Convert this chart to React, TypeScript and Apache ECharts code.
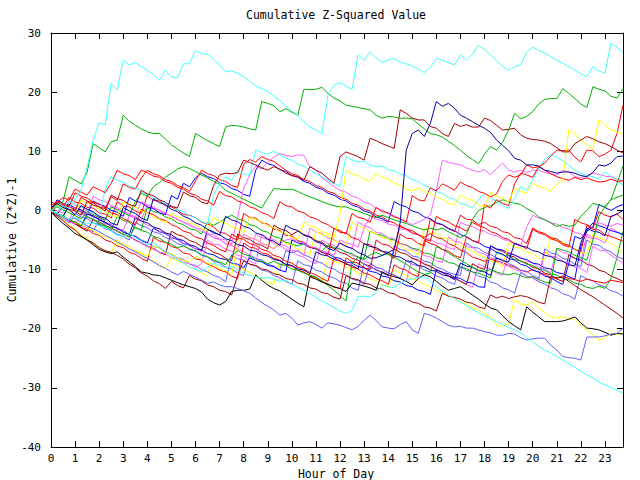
import React, { useEffect, useRef } from "react";
import * as echarts from "echarts";

const hours: number[] = Array.from({ length: 96 }, (_, i) => i / 4);
const hourTicks = ["0","1","2","3","4","5","6","7","8","9","10","11","12","13","14","15","16","17","18","19","20","21","22","23"];
const titleText = "Cumulative Z-Squared Value";
const xName = "Hour of Day";
const yName = "Cumulative (Z*Z)-1";

const cyanTop = [0,-0.4,0.8,0.4,2.0,3.4,7.3,11.9,14.8,14.5,21.5,20.4,25.4,24.6,25.0,24.3,23.7,23.0,22.0,23.7,22.6,22.4,24.8,24.8,27.1,26.5,26.4,25.6,24.6,23.4,23.6,23.2,22.6,21.9,21.0,20.6,20.1,19.3,18.6,17.6,16.9,16.0,15.0,14.1,13.6,13.0,19.5,21.2,21.6,21.0,20.5,26.3,25.4,26.8,25.8,25.0,25.4,25.7,25.1,24.8,24.4,23.9,23.3,24.2,25.7,25.4,25.0,24.6,26.3,25.4,26.4,27.9,27.2,26.3,25.3,24.4,23.7,24.3,24.6,26.8,27.6,27.1,26.6,26.0,25.4,24.9,24.3,23.7,23.1,22.6,24.3,23.6,23.2,28.3,27.6,26.6];
const greenTop = [0,1.0,1.5,5.7,5.1,4.5,6.5,11.3,10.6,9.9,11.6,11.9,16.1,15.1,14.4,13.8,13.3,13.0,13.0,12.1,11.1,10.4,9.7,9.1,13.0,12.4,11.8,11.3,10.8,14.1,14.4,14.3,14.1,13.8,13.6,18.4,18.1,17.7,16.7,17.2,16.6,16.1,20.5,20.4,20.5,20.8,19.8,19.0,18.5,17.8,17.6,17.4,17.2,17.0,16.1,15.6,15.9,15.8,15.6,15.6,15.5,14.6,13.8,13.0,12.8,12.4,11.7,11.0,10.2,9.3,8.6,7.9,9.5,10.8,10.2,11.5,13.6,16.4,15.5,15.9,16.7,18.0,18.8,18.9,18.9,20.6,19.8,18.9,18.0,17.4,20.9,20.5,20.2,19.3,19.0,20.6];
const cyanLow = [0,-0.6,-1.0,-1.5,-1.2,-1.8,-2.3,-2.1,-2.6,-2.9,-3.5,-4.2,-4.4,-3.9,-4.6,-5.2,-5.8,-5.4,-6.2,-6.9,-7.6,-8.4,-8.9,-9.5,-9.9,-10.4,-9.6,-8.9,-9.3,-9.7,-9.4,-10.1,-10.6,-11.0,-11.2,-11.5,-11.3,-11.6,-12.0,-11.8,-12.5,-13.0,-13.5,-14.1,-14.7,-15.3,-15.8,-16.4,-17.0,-17.4,-16.9,-14.6,-14.5,-14.6,-13.9,-12.6,-12.9,-13.1,-12.3,-11.8,-11.6,-11.3,-11.2,-12.0,-12.9,-13.6,-14.3,-14.9,-15.5,-16.1,-16.7,-17.3,-17.8,-18.3,-18.8,-19.3,-19.8,-20.2,-20.7,-21.5,-22.2,-23.0,-23.6,-24.1,-24.7,-25.3,-25.9,-26.5,-27.2,-27.8,-28.3,-29.0,-29.5,-29.9,-30.4,-30.9];
const lightBlueLow = [0,-0.5,-1.1,-1.6,-1.3,-2.0,-2.6,-3.1,-3.6,-4.2,-4.7,-5.3,-5.9,-6.5,-7.0,-7.6,-8.1,-8.7,-9.3,-9.8,-10.4,-10.9,-10.3,-10.8,-11.3,-11.8,-12.3,-12.1,-12.6,-12.9,-12.9,-13.2,-13.6,-14.0,-14.8,-15.6,-16.2,-16.8,-17.7,-17.4,-18.2,-19.4,-19.0,-18.8,-19.3,-19.9,-19.0,-19.2,-19.4,-19.8,-20.2,-19.6,-18.6,-17.7,-18.6,-19.7,-19.9,-20.0,-19.3,-18.8,-20.2,-20.8,-17.4,-17.7,-18.2,-18.8,-19.4,-19.7,-19.6,-19.9,-19.9,-20.2,-20.5,-20.7,-21.1,-21.1,-20.8,-20.9,-21.5,-21.9,-21.7,-21.6,-21.6,-22.8,-23.6,-24.7,-24.9,-25.0,-25.3,-21.4,-21.4,-21.4,-21.2,-20.9,-20.8,-19.9];
const blackLow = [-0.3,-1.3,-2.2,-3.0,-3.9,-4.4,-5.0,-5.8,-6.6,-7.0,-7.3,-7.0,-7.9,-8.7,-9.5,-10.4,-10.6,-10.9,-11.0,-11.4,-11.8,-12.2,-12.6,-12.9,-13.2,-13.8,-15.0,-15.6,-16.0,-15.4,-13.7,-13.5,-13.5,-13.3,-10.9,-11.8,-12.6,-13.2,-13.6,-14.3,-15.0,-15.7,-16.3,-11.2,-11.6,-12.1,-12.5,-12.9,-13.2,-13.7,-12.3,-12.5,-12.8,-13.1,-13.5,-10.4,-10.9,-11.2,-11.5,-12.0,-12.6,-11.5,-10.9,-11.2,-12.0,-12.8,-13.5,-13.2,-12.9,-13.6,-14.3,-15.0,-15.8,-16.5,-16.8,-17.8,-18.8,-19.5,-20.2,-16.3,-17.2,-18.0,-18.8,-18.8,-18.8,-18.7,-18.4,-18.0,-19.0,-19.9,-20.0,-20.2,-20.6,-21.1,-20.8,-20.9];
const navySpike = [0.5,1.2,0.5,0.1,-0.7,0.8,0.2,-0.2,-1.0,-1.3,-2.1,-2.5,0.5,-0.1,-0.5,-1.3,-1.7,2.0,1.3,1.0,0.2,-0.2,-1.0,-1.4,-2.1,-2.5,-3.2,-3.6,-4.2,-1.0,-1.6,-1.9,-2.7,-3.0,-3.8,-4.1,-4.9,-5.2,-5.9,-2.5,-3.1,-3.4,-4.2,-4.5,-5.3,-5.6,-6.4,-6.8,-5.5,-6.1,-6.4,-7.1,-7.5,-8.1,-8.0,-7.6,-7.1,-6.6,-2.0,10.2,13.0,13.6,12.5,14.7,18.4,17.6,18.1,17.3,16.1,15.6,15.0,14.4,13.9,13.2,11.9,11.0,10.1,8.8,8.5,7.7,7.7,7.5,6.8,6.6,6.3,6.5,6.5,6.3,5.9,5.7,6.4,7.7,7.5,8.0,9.1,9.2];
const maroonHigh = [0,-0.7,0.8,0.2,-0.1,-0.8,1.5,0.9,0.6,-0.1,2.6,2.0,1.7,1.0,0.7,3.4,2.8,2.5,1.8,1.4,0.7,0.4,3.1,2.5,2.2,1.4,1.1,4.2,6.0,6.3,6.2,6.4,8.5,8.1,7.7,7.2,6.8,7.4,7.0,6.3,5.9,5.7,5.1,7.4,6.8,6.3,5.4,4.6,9.1,9.9,9.5,9.1,8.5,12.2,11.8,11.3,10.9,10.5,17.0,16.4,15.6,15.3,15.3,14.2,13.9,13.0,12.5,14.7,14.2,14.5,14.1,14.1,15.6,15.2,14.4,13.6,13.7,13.9,12.8,12.2,12.0,11.9,11.7,11.3,10.6,9.9,9.9,11.3,11.9,12.5,12.1,11.6,11.3,10.8,10.2,9.7];
const yellowHigh = [0,1.0,0.4,0.1,-0.6,1.8,1.2,0.9,0.2,-0.1,-0.8,-1.1,1.5,0.9,0.6,-0.1,-0.4,-1.1,-1.5,-2.2,-0.5,-1.1,-1.4,-2.1,-2.4,-3.1,-3.5,-1.2,-1.8,-2.1,-2.8,-3.1,-3.8,-1.0,-1.6,-1.9,-2.6,-2.9,-3.6,-3.9,-4.6,-4.9,-2.0,-2.6,-2.9,-3.6,-3.9,-4.6,-0.5,6.8,6.2,5.9,5.3,5.0,6.2,5.6,5.3,4.6,4.3,3.6,3.3,3.8,3.2,2.9,2.2,1.9,1.2,0.9,2.6,2.0,1.7,1.0,0.6,3.0,2.4,2.1,1.4,3.8,3.2,2.9,4.6,4.1,3.8,3.2,4.4,5.1,13.6,12.9,11.9,11.1,10.4,15.3,14.4,13.6,13.2,13.0];
const redSpike = [0,1.6,1.0,0.7,0.0,2.2,1.6,1.3,0.6,0.3,-0.4,-0.7,-1.4,-1.8,-2.5,0.2,-0.4,-0.7,-1.4,-1.7,-2.4,-2.8,-3.5,-3.8,-4.5,-4.8,-5.5,-5.9,-6.6,-7.0,-4.0,-4.6,-4.9,-5.6,-5.9,-6.6,-6.9,-7.6,-7.9,-8.6,-8.9,-9.6,-9.9,-10.5,-10.9,-11.5,-12.0,-8.0,-8.6,-8.9,-9.6,-9.9,-10.6,-10.9,-11.5,-11.9,-12.5,-9.2,-9.8,-10.1,-10.8,-11.2,-5.0,-5.6,-5.9,-6.6,-6.9,-7.6,-8.0,-4.5,-5.1,-5.5,1.0,0.4,1.8,1.2,0.8,4.5,6.3,6.0,5.6,7.4,8.0,9.2,10.2,10.1,10.2,9.0,8.2,10.2,10.1,9.1,9.5,10.2,13.0,17.8];
const greenRise = [0,-0.6,-0.9,-1.6,-2.0,-2.6,-1.0,-1.6,-1.9,-2.6,-2.9,-3.6,-4.0,-4.5,-2.8,-3.4,-3.7,-4.4,-4.7,-5.4,-5.7,-6.3,-6.0,-6.5,-6.8,-7.5,-7.8,-8.4,-8.7,-9.2,-7.6,-6.8,-7.4,-7.7,-8.4,-8.6,-9.0,-8.6,-9.1,-9.3,-9.9,-10.1,-10.6,-10.9,-11.3,-11.9,-12.7,-13.5,-14.4,-15.3,-8.9,-7.9,-8.3,-7.5,-7.1,-7.6,-7.3,-7.9,-8.5,-9.1,-9.8,-10.4,-10.8,-10.6,-6.1,-6.6,-7.2,-7.8,-8.4,-9.0,-9.6,-10.1,-10.3,-10.0,-10.4,-10.7,-10.9,-10.6,-11.0,-11.4,-11.2,-11.7,-12.1,-12.3,-6.4,-6.7,-7.0,-7.6,-8.0,-8.4,-5.0,-1.0,0.6,1.8,4.6,7.5];
const cyanMid = [0,0.8,0.2,1.6,1.0,0.7,0.0,-0.3,-1.0,3.6,5.7,5.1,4.8,4.1,3.8,3.1,2.8,2.1,1.8,1.1,0.8,0.1,-0.2,-0.9,-1.2,-1.9,-2.3,2.5,4.6,5.7,5.1,6.8,6.2,5.9,10.2,9.8,9.5,10.0,9.4,8.8,8.5,7.8,7.5,6.8,6.2,5.7,5.0,4.6,4.0,9.1,8.5,8.2,8.3,7.7,7.4,7.5,6.9,6.7,6.2,5.9,5.2,4.9,4.2,3.9,3.2,2.9,2.2,1.9,1.2,0.9,0.4,1.8,2.9,2.2,1.5,0.9,0.3,2.0,4.0,3.4,5.2,7.0,8.7,9.4,9.0,8.4,7.6,6.8,6.3,5.9,5.7,5.3,6.5,5.8,4.9,4.3];
const magentaHigh = [0,-0.6,1.3,0.7,0.4,-0.3,-0.6,2.4,1.8,1.5,0.8,0.5,-0.2,-0.5,-1.2,1.5,0.9,0.6,-0.1,-0.4,-1.1,-1.4,-2.1,-2.3,-3.0,-3.2,-3.9,-4.1,-4.8,-5.0,-5.7,-1.2,3.8,6.0,7.5,7.0,8.2,9.0,9.6,9.3,9.1,9.4,9.3,7.4,6.9,5.5,4.8,4.0,3.4,3.1,2.4,2.1,1.4,1.1,0.4,0.1,-0.6,-0.9,-1.5,-1.9,-2.4,-2.0,-1.5,-0.8,3.4,8.5,8.1,7.9,7.7,7.2,6.8,6.5,6.9,6.0,7.1,8.0,6.8,6.5,6.8,6.4,6.8,6.8,6.4,6.2,6.0,6.8,6.5,5.7,5.5,5.9,6.3,6.1,5.8,5.7,5.3,5.0];
const greenMid = [0,0.6,0.1,-0.4,-0.9,-1.4,-0.2,-0.7,-1.2,-1.7,0.6,0.1,-0.4,-0.9,1.5,2.9,2.4,4.0,4.7,5.6,6.3,7.0,7.4,7.1,6.6,6.0,5.5,4.9,4.4,3.4,2.9,2.4,1.9,1.4,0.9,0.4,2.1,3.7,3.6,3.5,3.6,3.2,2.7,2.3,1.9,1.5,1.1,0.8,0.6,0.6,0.2,-0.1,-0.5,-0.9,-1.2,-0.8,-1.2,-1.6,-1.9,-2.2,-2.6,-3.0,-3.3,-3.0,-3.3,-3.0,-3.6,-4.1,-4.6,-4.0,-1.5,0.0,0.5,0.8,1.3,1.8,1.5,1.2,1.0,0.3,-0.2,-1.1,-1.6,-2.1,-2.7,-2.4,-2.7,-2.5,-1.0,0.0,1.2,0.9,0.6,1.8,2.2,2.6];
const navyMid = [0,-0.7,-1.0,1.0,0.4,0.1,-0.6,-0.9,-1.6,-2.0,-2.7,-3.0,-3.7,-4.1,-1.2,-1.8,-2.1,-2.8,-3.1,-3.8,-4.1,-4.8,-5.1,-5.8,-6.1,-6.8,-3.2,-3.8,-4.1,-4.8,-5.1,-5.8,-6.0,-6.7,-6.9,-7.5,-7.7,-8.3,-8.5,-9.1,-9.3,-9.9,-10.1,-10.7,-7.0,-7.5,-7.7,-8.3,-8.5,-9.1,-9.3,-9.9,-5.6,-6.1,-6.3,-6.9,-7.1,-7.7,-7.9,-8.5,-8.7,-9.3,-9.5,-10.1,-10.3,-10.9,-11.1,-11.7,-8.9,-9.4,-9.6,-10.2,-10.4,-11.0,-8.0,-8.5,-8.7,-5.5,-6.0,-6.2,-6.8,-7.0,-7.6,-7.8,-8.4,-8.6,-9.2,-9.4,-5.5,-3.0,-3.5,-3.7,-4.3,-1.0,-0.6,0.0];
const redPeak = [0.8,1.5,0.9,0.6,3.0,2.4,2.1,1.4,1.1,0.4,2.3,1.7,4.5,3.9,3.6,5.5,6.8,6.2,5.9,5.2,4.9,4.2,3.9,3.2,5.0,6.8,6.2,5.9,5.2,4.9,4.2,3.9,7.8,8.6,8.2,9.1,8.6,8.3,7.5,6.8,6.2,5.9,5.2,4.9,4.2,3.9,3.2,2.9,2.2,1.9,1.2,0.9,0.2,-0.1,-0.8,-1.1,-1.8,-2.1,-2.8,-3.1,-3.8,-4.1,-4.8,-5.2,-1.0,-1.6,-1.9,-2.6,-2.9,-3.5,-2.0,-2.6,-2.9,-3.6,-3.9,-4.6,-4.9,-5.6,-5.9,-6.5,-3.2,-3.8,-4.1,-4.8,-5.1,-5.8,-6.2,-1.5,-2.1,-2.4,-3.0,-0.2,-0.8,-1.1,-0.6,-1.5];
const magentaMid = [0,-0.7,-1.0,-1.7,0.6,-0.1,-0.3,-1.0,-1.3,-2.0,-2.3,-3.0,-3.4,-0.9,-1.5,-1.8,-2.5,-2.8,-3.5,-3.8,-4.5,-4.8,-5.5,-5.8,-6.5,-6.9,-4.0,-4.6,-4.9,-5.6,-5.9,-6.5,-4.0,-4.6,-4.9,-5.6,-5.9,-6.5,-5.6,-5.0,-4.8,-5.3,-5.5,-6.1,-6.3,-6.9,-7.1,-7.6,-5.0,-5.5,-5.7,-6.2,-3.0,-1.0,-1.5,-1.7,-2.3,-2.5,-3.1,-3.3,-3.9,-4.1,-4.7,-4.9,-5.5,-5.7,-6.3,-6.6,-2.0,-2.5,-2.7,-3.3,-3.5,-4.1,-4.3,-4.9,-5.1,-5.7,-6.0,-2.8,-0.8,-1.3,-1.5,-2.1,-2.3,-2.9,-3.1,-3.7,-4.0,-4.5,-4.8,-2.0,-2.5,-2.7,-2.2,-2.5];
const blueMid = [0,1.8,1.2,0.9,0.2,-0.1,-0.8,1.6,1.0,0.7,0.0,-0.3,-1.0,2.2,1.6,1.3,0.6,0.3,-0.4,-0.7,2.5,1.9,4.6,4.0,5.5,6.3,5.7,5.4,4.7,4.4,3.7,3.4,2.7,2.4,6.8,8.5,7.9,7.6,6.9,6.6,5.9,5.6,4.9,4.6,3.9,3.6,2.9,2.6,1.9,1.6,0.9,0.6,-0.1,-0.4,-1.1,-1.4,-2.0,1.5,0.9,0.6,-0.1,-0.4,-1.1,-1.4,-2.1,-2.4,-3.1,-3.4,-4.1,-4.4,-5.1,-5.4,-6.1,-6.4,-7.1,-7.4,-8.1,-8.4,-9.1,-9.4,-10.1,-10.4,-11.1,-11.4,-12.0,-12.5,-9.0,-4.4,-4.8,-3.4,-2.1,-2.6,-2.9,-3.4,-3.7,-4.1];
const redMid = [1.5,0.9,0.6,2.2,1.4,1.2,0.5,0.4,-0.4,-0.6,-1.3,1.5,0.7,0.6,-0.1,-0.5,2.5,1.7,1.6,0.8,0.6,0.1,-0.7,-0.8,-1.2,-2.0,-2.3,-2.8,-3.7,-3.9,-4.6,-5.0,-0.5,-1.2,-1.3,-2.1,-2.3,-3.1,-3.4,-4.2,-4.3,-5.1,-5.4,-6.2,-6.4,-7.0,-7.6,-3.0,-3.7,-3.8,-4.6,-4.9,-5.7,-5.8,-6.6,-6.9,-7.4,-8.1,-4.0,-4.7,-4.8,-5.6,-6.0,-1.5,-2.2,-2.4,-3.0,-3.6,-0.8,-1.5,-1.6,-2.4,-2.0,-2.7,-2.9,-3.6,-3.8,-4.6,-4.8,-5.6,-3.0,-3.6,-3.9,-4.6,-4.8,-5.6,-5.9,-6.6,-7.0,-2.5,-3.2,-3.3,-4.1,-4.4,-4.8,-5.2];
const yellowMid = [0,-0.4,-1.2,-1.3,-2.1,-2.4,-3.1,-3.3,-4.1,-4.5,-4.8,-5.6,-5.8,-6.5,-6.9,-7.1,-7.8,-6.0,-6.4,-7.2,-7.3,-8.0,-8.5,-8.7,-7.8,-8.2,-9.0,-9.1,-9.9,-10.2,-10.9,-5.5,-4.0,-4.6,-4.8,-5.5,-5.9,-6.5,-5.0,-5.6,-5.8,-6.6,-6.8,-7.5,-3.5,-4.1,-4.4,-5.1,-5.4,-6.1,-2.0,-2.7,-2.9,-3.6,-3.9,-4.6,-4.8,-5.6,-5.8,-6.6,-6.9,-7.5,-3.0,-3.7,-3.9,-4.6,-4.8,-5.6,-5.9,-6.5,-6.8,-7.6,-7.8,-8.6,-8.8,-9.5,-5.5,-6.2,-6.4,-7.1,-7.3,-8.1,-8.4,-4.5,-5.2,-5.3,-6.1,-6.4,-7.1,-7.3,-4.0,-4.7,-4.9,-5.6,-6.2,-7.0];
const magentaLow = [0,-0.7,-1.0,-1.9,-2.3,-0.5,-1.2,-1.4,-2.1,-2.4,-3.2,-3.4,-4.1,-4.4,-5.1,-5.5,-6.0,-6.6,-7.0,-7.3,-8.0,-8.1,-8.8,-9.0,-9.6,-9.0,-5.0,-5.7,-5.8,-6.6,-6.9,-7.6,-7.8,-8.6,-9.0,-4.0,-4.7,-4.9,-5.7,-6.0,-6.7,-6.9,-7.6,-3.0,-3.6,-3.9,-4.7,-4.9,-5.6,-5.9,-6.6,-2.0,-2.6,-2.9,-3.7,-3.9,-4.6,-4.8,-5.6,-5.9,-6.6,-6.8,-7.6,-7.9,-8.5,-8.8,-4.5,-5.2,-5.4,-6.1,-6.3,-7.1,-7.4,-8.0,-8.3,-9.1,-9.4,-10.0,-10.3,-11.1,-11.3,-12.0,-7.0,-7.7,-7.9,-8.6,-8.9,-9.6,-9.8,-10.5,-6.0,-6.7,-6.8,-7.6,-8.2,-9.0];
const lightBlueMid = [0,-0.6,-0.9,-1.7,-1.9,-2.6,-2.9,-3.6,-1.5,-2.2,-2.4,-3.1,-3.4,-4.1,-4.3,-5.0,-5.4,-6.1,-6.3,-7.0,-7.4,-8.0,-8.3,-9.1,-9.3,-10.0,-10.4,-11.0,-11.3,-12.1,-7.5,-8.2,-8.4,-9.1,-9.4,-10.1,-10.3,-11.0,-11.4,-12.0,-12.5,-8.5,-9.2,-9.4,-10.1,-10.4,-11.1,-11.4,-12.0,-12.3,-13.1,-13.5,-9.0,-9.7,-9.9,-10.6,-11.0,-6.0,-6.6,-6.9,-7.7,-7.9,-8.6,-8.8,-9.6,-9.9,-10.5,-10.8,-11.0,-5.5,-6.2,-6.4,-7.1,-7.4,-8.1,-8.3,-9.0,-9.4,-10.1,-10.3,-11.0,-11.5,-6.5,-7.2,-7.4,-8.1,-8.4,-9.1,-9.5,-5.0,-5.7,-5.9,-6.6,-7.0,-7.8,-8.2];
const redLow = [0,-0.7,-1.0,-1.8,-2.1,-2.9,-3.2,-3.9,-4.2,-5.0,-5.3,-6.0,-6.3,-7.1,-7.4,-8.1,-8.6,-4.5,-5.2,-5.4,-6.1,-6.4,-7.2,-7.4,-8.2,-8.4,-9.1,-9.5,-10.1,-10.4,-11.1,-11.5,-5.5,-6.2,-6.4,-7.2,-7.4,-8.1,-8.4,-9.2,-9.4,-10.1,-10.4,-11.1,-11.3,-12.1,-12.4,-13.0,-13.2,-8.0,-8.7,-8.9,-9.7,-10.0,-5.0,-5.7,-5.9,-6.6,-2.5,-3.2,-3.4,-4.1,-4.5,-3.9,-4.6,-4.8,-5.6,-6.0,-6.7,-7.1,-7.9,-8.2,-8.6,-8.2,-8.6,-8.8,-9.3,-9.6,-10.1,-10.4,-10.0,-10.5,-10.8,-11.3,-11.5,-11.1,-11.5,-11.7,-12.0,-11.6,-11.9,-12.1,-12.3,-11.8,-12.0,-12.2];
const maroonLow = [-0.2,-1.0,-1.7,-2.7,-3.3,-4.3,-5.0,-5.5,-6.3,-6.8,-7.1,-7.6,-8.2,-9.1,-9.7,-10.6,-11.1,-11.9,-12.4,-13.2,-12.0,-12.7,-13.1,-11.0,-11.6,-11.9,-12.6,-12.9,-13.5,-13.7,-14.3,-11.0,-8.5,-9.1,-9.3,-9.9,-10.1,-10.7,-10.9,-11.5,-11.7,-12.3,-12.5,-13.1,-13.3,-13.9,-14.1,-14.7,-15.0,-11.0,-11.5,-11.7,-12.3,-12.5,-13.1,-13.3,-13.9,-14.1,-14.7,-14.9,-15.5,-15.7,-16.3,-16.5,-17.0,-14.0,-14.5,-14.7,-15.0,-15.5,-15.7,-16.3,-16.6,-14.3,-14.8,-14.5,-14.9,-14.6,-14.4,-14.6,-15.0,-15.5,-15.8,-11.2,-11.4,-11.3,-12.0,-12.7,-13.4,-14.0,-14.6,-15.3,-16.0,-16.7,-17.4,-18.2];
const yellowLow = [0,-0.9,-1.5,-2.5,-3.1,-4.1,-4.7,-5.6,-6.2,-6.9,-7.2,-5.0,-5.7,-6.1,-6.9,-7.3,-8.1,-8.5,-9.3,-9.8,-8.0,-8.6,-8.9,-9.6,-9.9,-10.6,-11.0,-7.5,-8.1,-8.4,-9.1,-9.4,-10.1,-10.4,-11.1,-11.4,-12.1,-12.5,-8.5,-9.1,-9.4,-10.1,-10.4,-11.1,-11.4,-12.0,-8.0,-8.6,-8.9,-9.6,-9.9,-10.6,-10.9,-11.6,-11.9,-12.6,-13.0,-10.0,-10.6,-10.9,-11.6,-11.9,-12.6,-12.9,-13.5,-13.8,-14.5,-14.8,-15.5,-15.8,-16.5,-16.8,-17.5,-18.0,-19.4,-19.6,-19.1,-15.1,-15.8,-16.0,-15.5,-16.5,-17.3,-18.0,-18.2,-18.0,-18.2,-18.5,-19.4,-20.2,-21.0,-21.9,-21.6,-20.8,-21.0,-20.6];
const greenLow = [0,-0.7,-1.1,0.8,0.1,-0.3,-1.1,-1.5,-2.3,-2.7,-3.4,-1.0,-1.7,-2.0,-2.9,-3.3,0.5,-0.2,-0.4,-1.1,-1.4,-2.1,-2.4,-3.1,-3.3,-4.0,-2.0,-2.5,-2.0,-1.3,-0.8,-1.4,-1.7,-2.4,-2.7,-3.4,-3.7,-4.4,-4.7,-5.4,-5.7,-6.0,-5.6,-6.2,-6.4,-6.9,-5.8,-6.3,-6.5,-7.1,-7.3,-7.9,-8.1,-3.5,-4.0,-4.2,-4.8,-5.0,-5.6,-5.8,-6.4,-6.6,-7.2,-7.4,-8.0,-8.2,-8.8,-9.0,-9.6,-9.8,-10.4,-10.6,-11.0,-11.4,-7.0,-7.5,-7.7,-8.3,-8.5,-9.1,-9.3,-9.9,-10.1,-10.7,-10.9,-11.5,-11.7,-12.3,-12.5,-13.0,-13.2,-12.8,-13.2,-11.5,-8.0,-3.5];
const blueLow = [0,-0.6,-0.9,-1.7,-2.1,-2.7,-0.5,-1.1,-1.4,-2.1,-2.4,-3.1,-3.4,-4.1,-4.4,-5.1,-5.5,-3.0,-3.6,-3.9,-4.6,-4.9,-5.6,-5.9,-6.5,-6.7,-7.3,-7.5,-8.1,-8.3,-8.9,-9.1,-9.7,-8.0,-8.5,-8.7,-9.3,-9.5,-10.1,-10.4,-5.0,-5.5,-5.7,-6.3,-6.5,-7.1,-7.3,-7.9,-8.1,-8.7,-8.9,-9.5,-9.7,-10.3,-10.5,-11.1,-11.3,-11.9,-12.1,-12.7,-12.9,-13.5,-13.7,-14.2,-10.0,-10.5,-10.7,-11.3,-11.5,-12.1,-12.3,-12.9,-13.0,-6.0,-6.5,-6.7,-7.3,-7.5,-8.1,-8.3,-8.9,-9.1,-9.7,-9.9,-10.5,-10.7,-11.2,-11.6,-6.1,-3.5,-2.8,1.0,0.5,0.0,0.6,1.0];
const redUpper = [0.5,1.3,2.2,1.7,3.6,3.1,2.6,4.0,3.5,3.0,4.6,6.8,6.2,5.9,5.2,6.8,6.4,5.8,5.6,4.9,4.6,3.9,3.6,2.9,2.6,1.9,1.6,0.9,3.2,2.5,2.3,1.6,1.3,0.6,0.3,-0.4,-0.7,-1.4,1.5,0.8,0.6,-0.1,-0.4,-1.1,-1.4,-2.0,-2.4,-3.1,-3.4,-4.0,-0.5,-1.2,-1.4,-2.0,0.5,-0.2,-0.4,-1.1,-1.4,-2.0,2.5,1.8,1.6,3.8,3.3,4.5,4.0,3.4,4.8,4.2,3.9,3.2,2.9,2.3,2.8,4.9,6.0,5.6,6.0,7.7,7.2,7.4,6.8,6.2,5.7,5.4,5.1,5.6,5.2,5.5,5.1,4.8,4.9,5.3,4.9,5.0];
const lightBlueLow2 = [0,-0.8,-1.3,-2.1,-0.5,-1.1,-1.4,-2.1,-2.4,-3.1,-3.4,-4.0,-4.4,-5.0,-2.0,-2.6,-2.9,-3.6,-3.9,-4.6,-4.9,-5.6,-5.9,-6.6,-6.9,-7.6,-7.9,-8.6,-8.9,-9.6,-9.9,-10.6,-11.0,-7.5,-8.1,-8.4,-9.1,-9.4,-10.1,-6.8,-7.2,-6.8,-7.5,-7.9,-8.6,-8.9,-9.6,-9.9,-10.6,-10.9,-11.6,-11.9,-12.5,-9.0,-9.6,-9.9,-10.6,-10.9,-11.5,-8.5,-9.1,-9.4,-10.1,-10.4,-11.1,-11.4,-12.1,-12.5,-9.5,-10.1,-10.4,-11.1,-11.4,-12.1,-12.4,-13.1,-13.4,-14.0,-10.5,-11.1,-11.4,-12.1,-12.4,-13.1,-13.4,-14.1,-14.4,-15.0,-11.0,-11.6,-11.9,-12.6,-12.9,-13.6,-13.9,-14.5];
const maroonMid = [0,-0.7,-1.0,-1.8,-2.3,-2.9,-3.5,-1.5,-2.1,-2.4,-3.1,-3.4,-4.1,-4.4,-5.0,-5.5,-6.1,-6.4,-7.1,-7.5,-3.5,-4.1,-4.4,-5.1,-5.4,-6.1,-6.4,-7.1,-7.4,-8.1,-8.5,-4.0,-4.6,-4.9,-5.6,-5.9,-6.5,-2.5,-3.1,-3.4,-4.1,-3.5,-4.1,-4.4,-5.1,-5.4,-6.1,-6.4,-7.1,-7.4,-8.1,-8.4,-9.1,-9.4,-10.1,-10.4,-11.0,-6.5,-7.1,-7.4,-8.1,-8.4,-9.1,-9.4,-10.1,-10.4,-11.1,-11.4,-12.0,-12.5,-9.0,-9.6,-10.0,-6.0,-6.6,-6.9,-7.6,-7.9,-8.6,-8.9,-9.6,-9.9,-10.6,-10.9,-11.6,-12.0,-7.5,-8.1,-8.4,-9.1,-9.4,-10.1,-10.4,-11.1,-11.5,-12.0];
const magentaLow2 = [0.5,-0.1,-0.4,1.5,0.9,0.6,-0.1,-0.4,-1.1,-1.5,0.8,0.2,-0.1,-0.8,-1.1,-1.7,1.0,0.4,0.1,-0.6,-0.9,-1.6,-1.9,-2.6,-2.9,-3.6,-3.9,-4.6,-4.9,-5.6,-5.9,-6.6,-6.9,-7.6,-4.0,-4.6,-4.9,-5.6,-5.9,-6.6,-6.9,-7.6,-7.9,-8.6,-9.0,-5.0,-5.6,-5.9,-6.6,-6.9,-7.6,-7.9,-8.6,-8.9,-9.6,-9.9,-10.6,-10.9,-11.6,-12.0,-8.0,-8.6,-8.9,-9.6,-9.9,-10.6,-10.9,-11.6,-11.9,-12.5,-13.0,-9.0,-9.6,-9.9,-10.6,-11.0,-7.0,-7.6,-7.9,-8.6,-8.9,-9.6,-9.9,-10.5,-6.5,-7.1,-7.4,-8.1,-8.5,-4.0,-4.6,-4.9,-5.5,-3.0,-3.6,-4.0];

const CYAN = "#40ffff", GREEN = "#00b000", RED = "#ff0000", MAROON = "#a00000", BLUE = "#0000ff",
  NAVY = "#0000a0", LBLUE = "#6060ff", MAGENTA = "#ff60ff", YELLOW = "#ffff00", BLACK = "#000000";

const seriesList: [number[], string][] = [
  [yellowLow, YELLOW], [magentaLow2, MAGENTA], [maroonMid, MAROON], [lightBlueLow2, LBLUE],
  [blueLow, BLUE], [greenLow, GREEN], [redLow, RED], [lightBlueMid, LBLUE], [magentaLow, MAGENTA],
  [yellowMid, YELLOW], [redMid, RED], [blueMid, BLUE], [magentaMid, MAGENTA], [redPeak, RED],
  [navyMid, NAVY], [greenMid, GREEN], [magentaHigh, MAGENTA], [cyanMid, CYAN], [greenRise, GREEN],
  [redUpper, RED], [redSpike, RED], [yellowHigh, YELLOW], [maroonLow, MAROON], [maroonHigh, MAROON],
  [navySpike, NAVY], [blackLow, BLACK], [lightBlueLow, LBLUE], [cyanLow, CYAN], [greenTop, GREEN], [cyanTop, CYAN],
];

const FONT = "DejaVu Sans Mono";

export default function App() {
  const ref = useRef<HTMLDivElement>(null);
  useEffect(() => {
    if (!ref.current) return;
    const chart = echarts.init(ref.current, undefined, { renderer: "svg" });
    const tickStyle = { show: true, inside: true, length: 6, lineStyle: { color: "#000", width: 1 } };
    const lineAx = { show: true, onZero: false, lineStyle: { color: "#000", width: 1 } };
    const textFont = `11.5px "${FONT}"`;
    chart.setOption({
      animation: false,
      backgroundColor: "#fff",
      graphic: [
        { type: "text", x: 336, y: 15, silent: true,
          style: { text: titleText, font: textFont, fill: "#000", align: "center", verticalAlign: "middle" } },
        { type: "text", x: 336, y: 474, silent: true,
          style: { text: xName, font: textFont, fill: "#000", align: "center", verticalAlign: "middle" } },
        { type: "text", x: 12, y: 240, rotation: Math.PI / 2, silent: true,
          style: { text: yName, font: textFont, fill: "#000", align: "center", verticalAlign: "middle" } },
      ],
      grid: { left: 51, right: 17, top: 33, bottom: 33, containLabel: false, outerBoundsMode: "none" },
      xAxis: [
        {
          type: "value", min: 0, max: 23.75, interval: 1, position: "bottom",
          axisLine: lineAx, axisTick: tickStyle, splitLine: { show: false },
          axisLabel: {
            fontFamily: FONT, fontSize: 11, color: "#000", margin: 6,
            formatter: (v: number) => (Number.isInteger(v) && v <= 23 ? hourTicks[v] : ""),
          },
        },
        {
          type: "value", min: 0, max: 23.75, interval: 1, position: "top",
          axisLine: lineAx, axisTick: tickStyle, splitLine: { show: false }, axisLabel: { show: false },
        },
      ],
      yAxis: [
        {
          type: "value", min: -40, max: 30, interval: 10, position: "left",
          axisLine: lineAx, axisTick: tickStyle, splitLine: { show: false },
          axisLabel: { fontFamily: FONT, fontSize: 11, color: "#000", margin: 10 },
        },
        {
          type: "value", min: -40, max: 30, interval: 10, position: "right",
          axisLine: lineAx, axisTick: tickStyle, splitLine: { show: false }, axisLabel: { show: false },
        },
      ],
      series: seriesList.map(([vals, color]) => ({
        type: "line",
        xAxisIndex: 0,
        yAxisIndex: 0,
        data: vals.map((v, i) => [hours[i], v]),
        showSymbol: false,
        symbol: "none",
        silent: true,
        lineStyle: { color, width: 1 },
        itemStyle: { color },
      })),
    });
    return () => chart.dispose();
  }, []);
  return <div ref={ref} style={{ position: "fixed", left: 0, top: 0, width: 640, height: 480 }} />;
}
